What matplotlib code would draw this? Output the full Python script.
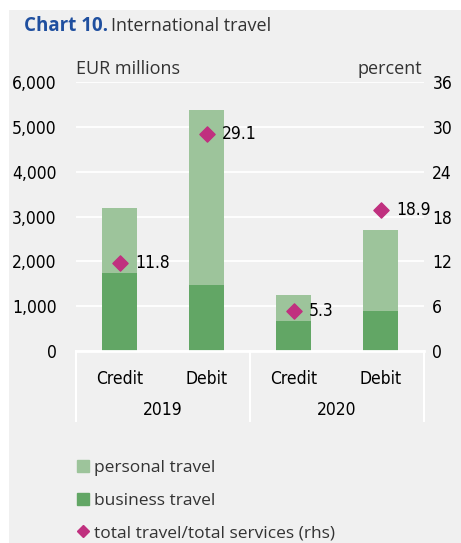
import numpy as np
import matplotlib
matplotlib.use('Agg')
import matplotlib.pyplot as plt
from matplotlib.patches import Rectangle
from matplotlib.lines import Line2D
from matplotlib.font_manager import FontProperties

# data
categories = ['Credit', 'Debit', 'Credit', 'Debit']
years = ['2019', '2020']
business = [1740, 1470, 680, 900]
personal = [1460, 3910, 570, 1800]   # stacked on top of business
share = [11.8, 29.1, 5.3, 18.9]      # rhs, percent

left_ticks = [0, 1000, 2000, 3000, 4000, 5000, 6000]
right_ticks = [0, 6, 12, 18, 24, 30, 36]

bg = '#f0f0f0'
c_pers = '#9dc49b'
c_bus = '#62a665'
c_dia = '#c0307f'
plain = ['Open Sans', 'DejaVu Sans']
nfp = FontProperties(family=['DejaVu Sans'], stretch='condensed', size=12.5)

fig = plt.figure(figsize=(4.61, 5.43), dpi=100)
fig.patches.append(Rectangle((9 / 461, 0), 1, 1 - 10 / 543, transform=fig.transFigure,
                             facecolor=bg, edgecolor='none', zorder=-10))

ax = fig.add_axes([76 / 461, 1 - 351 / 543, 348 / 461, 269 / 543])
ax.set_facecolor(bg)
x = np.arange(len(categories))
ax.bar(x, business, width=0.4, color=c_bus, zorder=3)
ax.bar(x, personal, width=0.4, bottom=business, color=c_pers, zorder=3)
ax.set_xlim(-0.5, 3.5)
ax.set_ylim(0, 6000)
ax.set_yticks(left_ticks)
ax.set_yticklabels([f'{v:,}' for v in left_ticks], fontproperties=nfp)
ax.grid(axis='y', color='white', linewidth=1.3, zorder=0)
ax.set_xticks([])
for s in ax.spines.values():
    s.set_visible(False)
ax.tick_params(axis='y', length=0, pad=14)

ax2 = ax.twinx()
ax2.set_ylim(0, 36)
ax2.set_yticks(right_ticks)
ax2.set_yticklabels([str(v) for v in right_ticks], fontproperties=nfp)
ax2.tick_params(axis='y', length=0, pad=6)
for s in ax2.spines.values():
    s.set_visible(False)
ax2.scatter(x, share, marker='D', s=60, color=c_dia, zorder=5)
for xi, v in zip(x, share):
    ax2.text(xi + 0.18, v, f'{v}', va='center', ha='left', fontproperties=nfp)

# category axis
trans = ax.get_xaxis_transform()
ax.plot([-0.5, 3.5], [0, 0], color='white', lw=2, transform=trans, clip_on=False, zorder=4)
for xv in [-0.5, 1.5, 3.5]:
    ax.plot([xv, xv], [0, -0.26], color='white', lw=1.5, transform=trans, clip_on=False)
for xi, c in zip(x, categories):
    ax.text(xi, -0.105, c, ha='center', va='center', transform=trans, fontproperties=nfp)
for i, yr in enumerate(years):
    ax.text(0.5 + 2 * i, -0.22, yr, ha='center', va='center', transform=trans, fontproperties=nfp)

ax.text(0, 1.015, 'EUR millions', transform=ax.transAxes, ha='left', va='bottom',
        family=plain, fontsize=13, color='#333333')
ax.text(0.995, 1.015, 'percent', transform=ax.transAxes, ha='right', va='bottom',
        family=plain, fontsize=13, color='#333333')

fig.text(24 / 461, 1 - 26 / 543, 'Chart 10.', family=plain, fontweight='bold',
         fontsize=13.5, color='#1f4f9f', va='center')
fig.text(111 / 461, 1 - 26 / 543, 'International travel', family=plain,
         fontsize=13, color='#333333', va='center')

handles = [Rectangle((0, 0), 1, 1, color=c_pers),
           Rectangle((0, 0), 1, 1, color=c_bus),
           Line2D([], [], marker='D', color=c_dia, linestyle='none', markersize=6)]
labels = ['personal travel', 'business travel', 'total travel/total services (rhs)']
leg = fig.legend(handles, labels, loc='upper left', bbox_to_anchor=(70 / 461, 1 - 453 / 543),
                 frameon=False, prop={'family': plain, 'size': 12.5}, handlelength=0.7,
                 handleheight=0.7, handletextpad=0.3, labelspacing=0.95, borderaxespad=0)
for t in leg.get_texts():
    t.set_color('#333333')

fig.savefig('out.png', dpi=100)
